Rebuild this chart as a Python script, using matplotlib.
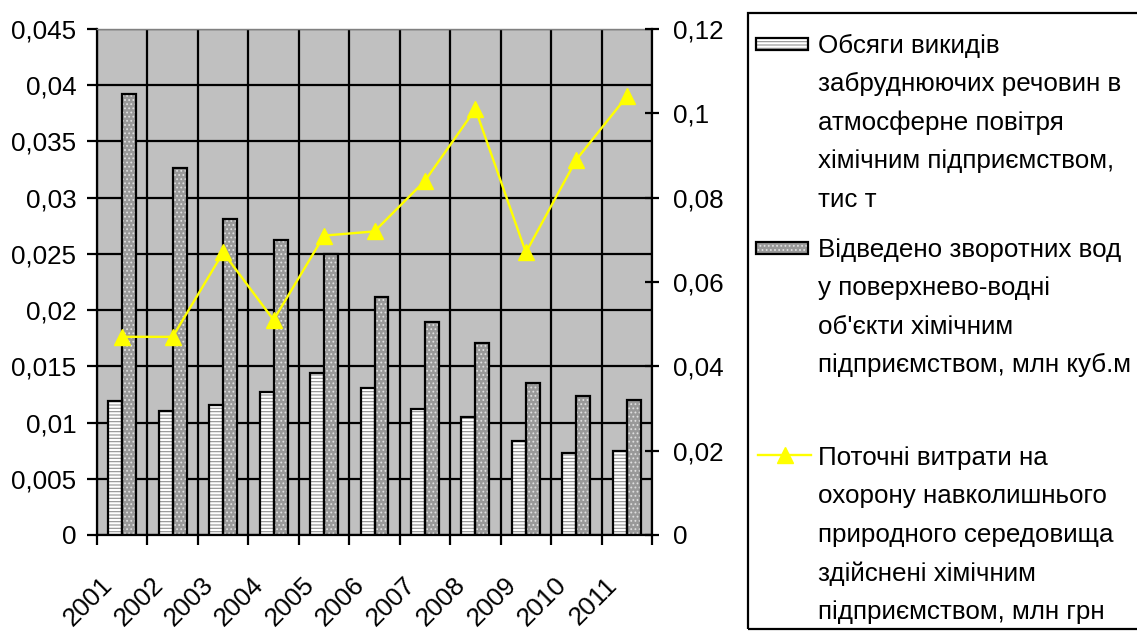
import matplotlib
matplotlib.use("Agg")
import matplotlib.pyplot as plt
import matplotlib.transforms as mtransforms
from matplotlib.patches import Rectangle
from matplotlib.lines import Line2D
import numpy as np

plt.rcParams['font.family'] = ['Liberation Sans', 'DejaVu Sans']
plt.rcParams['hatch.linewidth'] = 0.8

years = ['2001', '2002', '2003', '2004', '2005', '2006',
         '2007', '2008', '2009', '2010', '2011']
emissions = [0.0119, 0.0110, 0.0116, 0.0127, 0.0144, 0.0131,
             0.0112, 0.0105, 0.0084, 0.0073, 0.0075]
wastewater = [0.0392, 0.0326, 0.0281, 0.0262, 0.0250, 0.0212,
              0.0189, 0.0171, 0.0135, 0.0124, 0.0120]
expenses = [0.047, 0.047, 0.067, 0.051, 0.071, 0.072,
            0.084, 0.101, 0.067, 0.089, 0.104]

left_ticks = [0, 0.005, 0.01, 0.015, 0.02, 0.025, 0.03, 0.035, 0.04, 0.045]
left_labels = ['0', '0,005', '0,01', '0,015', '0,02', '0,025', '0,03',
               '0,035', '0,04', '0,045']
right_ticks = [0, 0.02, 0.04, 0.06, 0.08, 0.1, 0.12]
right_labels = ['0', '0,02', '0,04', '0,06', '0,08', '0,1', '0,12']

legend_labels = [
    ['Обсяги викидів', 'забруднюючих речовин в', 'атмосферне повітря',
     'хімічним підприємством,', 'тис т'],
    ['Відведено зворотних вод', 'у поверхнево-водні', "об'єкти хімічним",
     'підприємством, млн куб.м'],
    ['Поточні витрати на', 'охорону навколишнього',
     'природного середовища', 'здійснені хімічним',
     'підприємством, млн грн'],
]

W, H = 1137, 631
DPI = 100
FS = 18.7
STRIPES = '-----'
DOTS = '....'
fig = plt.figure(figsize=(W / DPI, H / DPI), dpi=DPI)

# plot area in pixel coordinates
x0, x1, y_top, y_bot = 97, 652, 29, 535
ax = fig.add_axes([x0 / W, 1 - y_bot / H, (x1 - x0) / W, (y_bot - y_top) / H])
ax.set_facecolor('#c0c0c0')
ax.set_axisbelow(True)

x = np.arange(len(years))
bw = 0.277
off = bw / 2

# emissions: white bars with grey horizontal stripes
ax.bar(x - off, emissions, bw, color='white', edgecolor='#909090',
       hatch=STRIPES, linewidth=0, zorder=2)
ax.bar(x - off, emissions, bw, fill=False, edgecolor='black',
       linewidth=1.6, zorder=3)
# wastewater: grey bars with light dots
ax.bar(x + off, wastewater, bw, color='#999999', edgecolor='#e0e0e0',
       hatch=DOTS, linewidth=0, zorder=2)
ax.bar(x + off, wastewater, bw, fill=False, edgecolor='black',
       linewidth=1.6, zorder=3)

ax.set_xlim(-0.5, len(years) - 0.5)
ax.set_ylim(0, 0.045)
ax.set_yticks(left_ticks)
ax.set_yticklabels(left_labels, fontsize=FS)
ax.tick_params(axis='y', direction='out', length=7, width=1.6, pad=8)

# year labels at centers, tick marks at category boundaries
ax.set_xticks(x)
ax.set_xticklabels(years, fontsize=FS, rotation=45, ha='right', va='top')
ax.tick_params(axis='x', which='major', length=0, pad=27)
ax.set_xticks(np.arange(len(years) + 1) - 0.5, minor=True)
ax.tick_params(axis='x', which='minor', direction='out', length=7.5, width=1.6)
shift = mtransforms.ScaledTranslation(-5 / DPI, 0, fig.dpi_scale_trans)
for lbl in ax.get_xticklabels():
    lbl.set_transform(lbl.get_transform() + shift)

ax.grid(axis='y', color='black', linewidth=1.6)
ax.grid(axis='x', which='minor', color='black', linewidth=1.6)
for side in ['left', 'bottom']:
    ax.spines[side].set_linewidth(1.6)
ax.spines['top'].set_color('#808080')
ax.spines['top'].set_linewidth(1.0)
ax.spines['right'].set_visible(False)

ax2 = ax.twinx()
ax2.plot(x, expenses, color='#ffff00', linewidth=1.7, marker='^',
         markersize=11, markerfacecolor='#ffff00', markeredgecolor='#ffff00',
         zorder=5)
ax2.set_ylim(0, 0.12)
ax2.set_yticks(right_ticks)
ax2.set_yticklabels(right_labels, fontsize=FS)
ax2.tick_params(axis='y', direction='inout', length=10, width=1.6, pad=10)
ax2.spines['right'].set_linewidth(1.6)
for side in ['left', 'top', 'bottom']:
    ax2.spines[side].set_visible(False)

# legend box drawn in figure pixel coordinates
def px(xp, yp):
    return xp / W, 1 - yp / H

lx0, ly0, lx1, ly1 = 748, 13, 1140, 629
fig.add_artist(Rectangle(px(lx0, ly1), (lx1 - lx0) / W, (ly1 - ly0) / H,
                         transform=fig.transFigure, fill=False,
                         edgecolor='black', linewidth=1.6))

text_x = 818
line_step = 38.6
group_tops = [43, 247, 455]
for lines, ytop in zip(legend_labels, group_tops):
    for i, s in enumerate(lines):
        fig.text(*px(text_x, ytop + i * line_step), s, fontsize=FS,
                 ha='left', va='center_baseline')

# legend keys
kx0, kx1, kh = 756, 808, 12
for yc, fc, ec, hatch in [(44, 'white', '#909090', STRIPES),
                          (248, '#999999', '#e0e0e0', DOTS)]:
    fig.add_artist(Rectangle(px(kx0, yc + kh / 2), (kx1 - kx0) / W, kh / H,
                             transform=fig.transFigure, facecolor=fc,
                             edgecolor=ec, hatch=hatch, linewidth=0))
    fig.add_artist(Rectangle(px(kx0, yc + kh / 2), (kx1 - kx0) / W, kh / H,
                             transform=fig.transFigure, fill=False,
                             edgecolor='black', linewidth=1.6))
fig.add_artist(Line2D([758 / W, 811 / W], [1 - 455 / H, 1 - 455 / H],
                      transform=fig.transFigure, color='#ffff00',
                      linewidth=1.7))
fig.add_artist(Line2D([784.5 / W], [1 - 455 / H], transform=fig.transFigure,
                      color='#ffff00', marker='^', markersize=11))

fig.savefig('out.png', dpi=DPI)
